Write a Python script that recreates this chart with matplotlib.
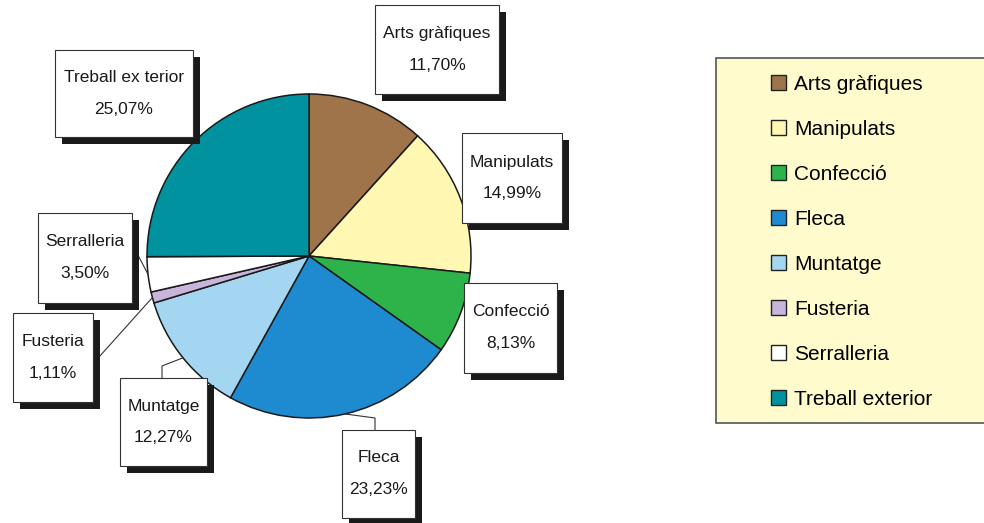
import matplotlib.pyplot as plt
from matplotlib.patches import Rectangle, Patch
import numpy as np

# data
sectors = ['Arts gràfiques', 'Manipulats', 'Confecció', 'Fleca',
           'Muntatge', 'Fusteria', 'Serralleria', 'Treball exterior']
box_names = ['Arts gràfiques', 'Manipulats', 'Confecció', 'Fleca',
             'Muntatge', 'Fusteria', 'Serralleria', 'Treball ex terior']
percent = [11.70, 14.99, 8.13, 23.23, 12.27, 1.11, 3.50, 25.07]
colors = ['#A0744A', '#FFF7B2', '#2EB34B', '#1E8BD1',
          '#A4D6F2', '#C9B5DB', '#FFFFFF', '#00929E']

W, H = 984, 523


def Y(y):
    # image row -> data y
    return H - y


# label boxes: left, top, right, bottom (image pixels)
boxes = [(375, 5, 499, 94), (462, 133, 562, 223), (464, 283, 557, 373),
         (342, 430, 415, 518), (120, 378, 207, 466), (13, 313, 93, 402),
         (38, 213, 132, 303), (55, 50, 193, 137)]
# leader line bends (from box towards pie), None = no line
leaders = [None, None, None, [(375, 430), (375, 418)],
           [(162, 378), (162, 366)], [(99, 357)], [(139, 257)], None]

plt.rcParams['font.family'] = ['Liberation Sans', 'DejaVu Sans']

fig = plt.figure(figsize=(W / 100, H / 100), dpi=100)
ax = fig.add_axes([0, 0, 1, 1])

cx, cy, r = 309, 256, 162
wedges, _ = ax.pie(percent, colors=colors, startangle=90, counterclock=False,
                   center=(cx, Y(cy)), radius=r,
                   wedgeprops=dict(edgecolor='#1a1a1a', linewidth=1.1))

for i, w in enumerate(wedges):
    l, t, rr, b = boxes[i]
    ax.add_patch(Rectangle((l + 7, Y(b + 7)), rr - l, b - t,
                           facecolor='#1a1a1a', edgecolor='none', zorder=3))
    ax.add_patch(Rectangle((l, Y(b)), rr - l, b - t,
                           facecolor='white', edgecolor='#333333', linewidth=0.8, zorder=4))
    mx = (l + rr) / 2
    my = (t + b) / 2
    ax.text(mx, Y(my - 16), box_names[i], ha='center', va='center',
            fontsize=12.5, color='#1a1a1a', zorder=5)
    ax.text(mx, Y(my + 16), '{:.2f}%'.format(percent[i]).replace('.', ','),
            ha='center', va='center', fontsize=12.5,
            color='#1a1a1a', zorder=5)
    if leaders[i] is not None:
        ang = np.deg2rad((w.theta1 + w.theta2) / 2)
        px = cx + r * np.cos(ang)
        py = Y(cy) + r * np.sin(ang)
        xs = [p[0] for p in leaders[i]] + [px]
        ys = [Y(p[1]) for p in leaders[i]] + [py]
        ax.plot(xs, ys, color='#333333', linewidth=0.8, zorder=2)

# legend panel
ax.add_patch(Rectangle((716, Y(423)), 275, 423 - 58, facecolor='#FFFBCC',
                       edgecolor='#555555', linewidth=1.2, zorder=1))
handles = [Patch(facecolor=c, edgecolor='#222222', linewidth=1.0) for c in colors]
ax.legend(handles, sectors, loc='upper left', bbox_to_anchor=(750, Y(54)),
          bbox_transform=ax.transData, frameon=False, fontsize=15,
          handlelength=0.72, handleheight=0.72, handletextpad=0.4,
          labelspacing=1.25, borderpad=0.5)

ax.set_xlim(0, W)
ax.set_ylim(0, H)
ax.set_aspect('equal')
ax.axis('off')

fig.savefig('out.png', dpi=100)
